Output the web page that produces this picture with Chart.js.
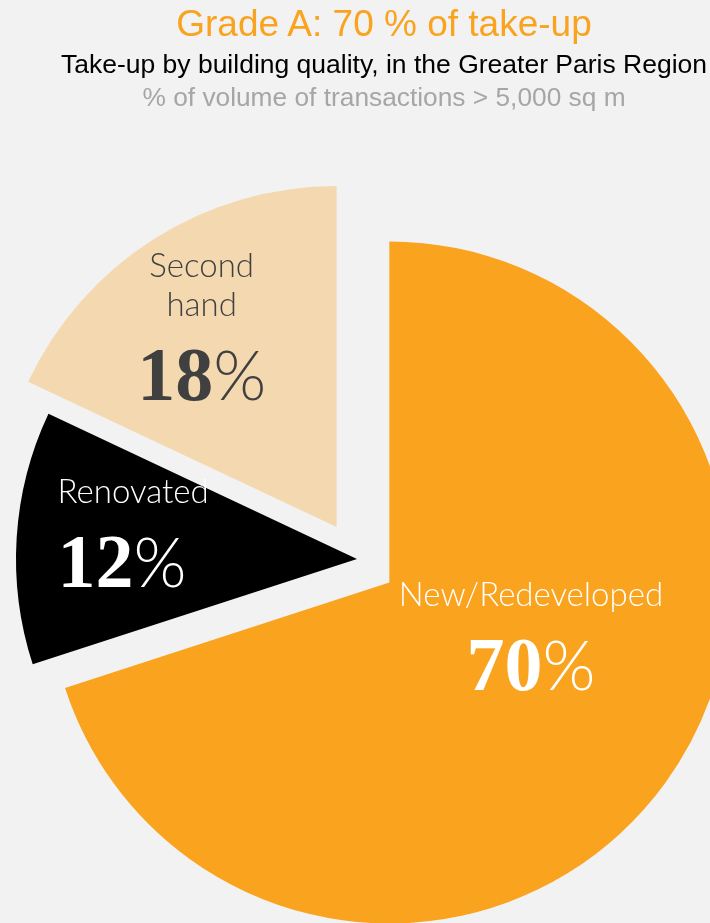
<!DOCTYPE html>
<html>
<head>
<meta charset="utf-8">
<title>Grade A: 70 % of take-up</title>
<script src="https://cdn.jsdelivr.net/npm/chart.js"></script>
<style>
  html, body { margin: 0; padding: 0; background: #f2f2f2; overflow: hidden; }
  #page { position: relative; width: 710px; height: 923px; }
  #chartBox { position: absolute; left: 0; top: 0; width: 710px; height: 923px; }
  .head { position: absolute; left: 29px; width: 710px; text-align: center; white-space: nowrap;
          font-family: "Liberation Sans", Arial, sans-serif; z-index: 2; line-height: 1; }
  #title { top: 5px; font-size: 37px; color: #f9a31f; }
  #sub1 { top: 51px; font-size: 26.5px; color: #000; }
  #sub2 { top: 84px; font-size: 26.3px; color: #a6a6a6; }
</style>
</head>
<body>
<div id="page">
  <div class="head" id="title">Grade A: 70 % of take-up</div>
  <div class="head" id="sub1">Take-up by building quality, in the Greater Paris Region</div>
  <div class="head" id="sub2">% of volume of transactions &gt; 5,000 sq m</div>
  <div id="chartBox"><canvas id="pieQuality"></canvas></div>
</div>
<script>
// Parts de la demande placée par qualité d'immeuble
const categories = [['New/Redeveloped'], ['Renovated'], ['Second', 'hand']];
const shares = [70, 12, 18];

const sliceColors = ['#f9a31f', '#000000', '#f4d9b0'];
const textColors = ['#ffffff', '#ffffff', '#404040'];
// décalage de chaque part vers l'extérieur (px)
const sliceShift = [40, 0, 38];
// position du texte : fraction de l'angle de la part, fraction du rayon
const labelSpot = [
  { t: 0.455, r: 0.457, align: 'center' },
  { t: 0.479, r: 0.879, align: 'left' },
  { t: 0.405, r: 0.635, align: 'center' }
];

const nameFont = '300 33px Lato, "Liberation Sans", Arial, sans-serif';
const numFont = 'bold 76px "Liberation Serif", "Times New Roman", serif';
const pctFont = '300 68px Lato, "Liberation Sans", Arial, sans-serif';

// déplace le sommet de chaque part le long de sa bissectrice
const explode = {
  id: 'explode',
  afterDatasetsUpdate(chart) {
    chart.getDatasetMeta(0).data.forEach((arc, i) => {
      const mid = (arc.startAngle + arc.endAngle) / 2;
      arc.x += Math.cos(mid) * sliceShift[i];
      arc.y += Math.sin(mid) * sliceShift[i];
    });
  }
};

// libellé + pourcentage dans chaque part
const sliceText = {
  id: 'sliceText',
  afterDatasetsDraw(chart) {
    const ctx = chart.ctx;
    const values = chart.data.datasets[0].data;
    chart.getDatasetMeta(0).data.forEach((arc, i) => {
      const spot = labelSpot[i];
      const a = arc.startAngle + spot.t * (arc.endAngle - arc.startAngle);
      const x = arc.x + Math.cos(a) * arc.outerRadius * spot.r;
      const y = arc.y + Math.sin(a) * arc.outerRadius * spot.r;
      ctx.save();
      ctx.fillStyle = textColors[i];
      ctx.textBaseline = 'alphabetic';

      const lines = chart.data.labels[i];
      ctx.font = nameFont;
      ctx.textAlign = spot.align;
      lines.forEach((line, k) => {
        ctx.fillText(line, x, y - 42 - (lines.length - 1 - k) * 39);
      });

      const num = String(values[i]);
      ctx.font = numFont;
      const wNum = ctx.measureText(num).width;
      ctx.font = pctFont;
      const wPct = ctx.measureText('%').width;
      const left = spot.align === 'left' ? x : x - (wNum + wPct) / 2;
      ctx.textAlign = 'left';
      ctx.font = numFont;
      ctx.fillText(num, left, y + 42);
      ctx.font = pctFont;
      ctx.fillText('%', left + wNum, y + 42);
      ctx.restore();
    });
  }
};

const ctx = document.getElementById('pieQuality').getContext('2d');
new Chart(ctx, {
  type: 'pie',
  data: {
    labels: categories,
    datasets: [{
      data: shares,
      backgroundColor: sliceColors,
      borderWidth: 0,
      radius: 341,
      clip: false
    }]
  },
  options: {
    responsive: true,
    maintainAspectRatio: false,
    animation: false,
    layout: { padding: { left: 4, right: 0, top: 195, bottom: 0 } },
    plugins: {
      legend: { display: false },
      tooltip: { enabled: false }
    }
  },
  plugins: [explode, sliceText]
});
</script>
</body>
</html>
